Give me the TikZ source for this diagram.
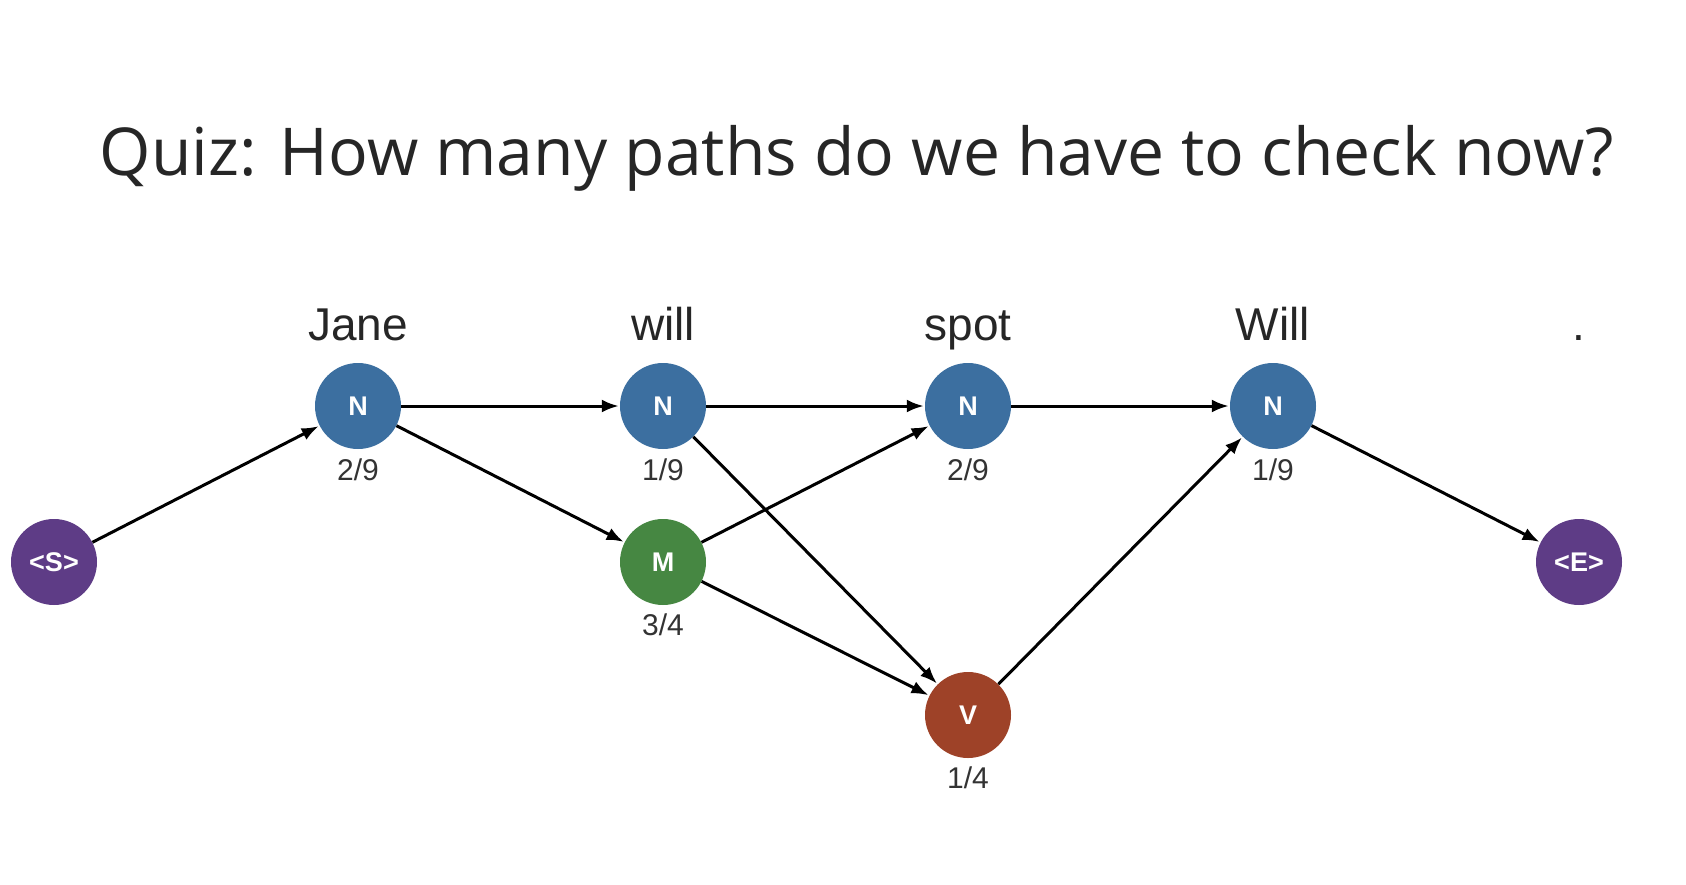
\documentclass[tikz,border=0pt]{standalone}
\usepackage{fontspec}
\setmainfont{Liberation Sans}
\newfontfamily\titlefont{Open Sans}
\usetikzlibrary{arrows.meta}
\definecolor{nblue}{RGB}{60,111,160}
\definecolor{mgreen}{RGB}{70,135,66}
\definecolor{vred}{RGB}{158,66,40}
\definecolor{epurple}{RGB}{94,60,134}
\tikzset{
  tag/.style={circle, minimum size=86pt, inner sep=0pt, text=white, font=\fontsize{27}{27}\selectfont\bfseries},
  word/.style={anchor=base, font=\fontsize{46}{46}\selectfont, text=black!85},
  prob/.style={anchor=base, font=\fontsize{30}{30}\selectfont, text=black!80},
  edge/.style={line width=3pt, -{Latex[length=17pt,width=13pt]}, shorten >=1pt}
}
\begin{document}
\begin{tikzpicture}[x=1pt,y=-1pt]
\useasboundingbox (0,0) rectangle (1686,884);
\node[font=\titlefont\fontsize{66}{66}\selectfont, text=black!85] (title) at (857,158) {Quiz: How many paths do we have to check now?};

\node[tag, fill=epurple] (S) at (54,562) {<S>};
\node[tag, fill=nblue] (n1) at (358,406) {N};
\node[tag, fill=nblue] (n2) at (663,406) {N};
\node[tag, fill=mgreen] (m2) at (663,562) {M};
\node[tag, fill=nblue] (n3) at (968,406) {N};
\node[tag, fill=vred] (v3) at (968,715) {V};
\node[tag, fill=nblue] (n4) at (1273,406) {N};
\node[tag, fill=epurple] (E) at (1579,562) {<E>};

\node[word] (w1) at (358,340) {Jane};
\node[word] (w2) at (663,340) {will};
\node[word] (w3) at (968,340) {spot};
\node[word] (w4) at (1273,340) {Will};
\node[word] (w5) at (1579,340) {.};

\node[prob] (p1) at (358,480) {2/9};
\node[prob] (p2) at (663,480) {1/9};
\node[prob] (pm) at (663,635) {3/4};
\node[prob] (p3) at (968,480) {2/9};
\node[prob] (pv) at (968,788) {1/4};
\node[prob] (p4) at (1273,480) {1/9};

\draw[edge] (S) -- (n1);
\draw[edge] (n1) -- (n2);
\draw[edge] (n1) -- (m2);
\draw[edge] (n2) -- (n3);
\draw[edge] (n2) -- (v3);
\draw[edge] (m2) -- (n3);
\draw[edge] (m2) -- (v3);
\draw[edge] (n3) -- (n4);
\draw[edge] (v3) -- (n4);
\draw[edge] (n4) -- (E);
\end{tikzpicture}
\end{document}
